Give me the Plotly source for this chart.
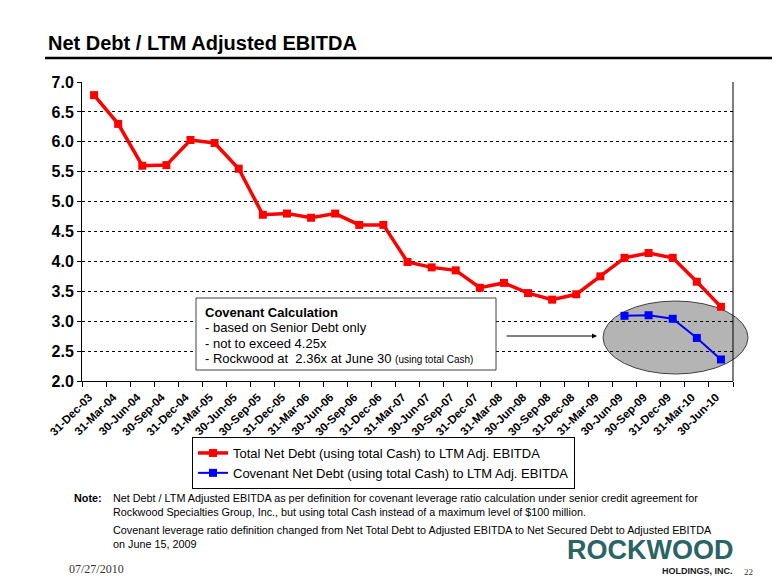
import plotly.graph_objects as go

# Page body has an 8px margin, so the figure is drawn 8px in from the top-left.
OFF = 8
W, H = 780 - OFF, 585 - OFF

quarters = ["31-Dec-03", "31-Mar-04", "30-Jun-04", "30-Sep-04", "31-Dec-04", "31-Mar-05",
            "30-Jun-05", "30-Sep-05", "31-Dec-05", "31-Mar-06", "30-Jun-06", "30-Sep-06",
            "31-Dec-06", "31-Mar-07", "30-Jun-07", "30-Sep-07", "31-Dec-07", "31-Mar-08",
            "30-Jun-08", "30-Sep-08", "31-Dec-08", "31-Mar-09", "30-Jun-09", "30-Sep-09",
            "31-Dec-09", "31-Mar-10", "30-Jun-10"]
total_net_debt = [6.78, 6.30, 5.60, 5.61, 6.03, 5.98, 5.55, 4.78, 4.80, 4.73, 4.80, 4.61,
                  4.61, 3.99, 3.90, 3.85, 3.56, 3.64, 3.47, 3.36, 3.45, 3.75, 4.06, 4.14,
                  4.06, 3.66, 3.24]
covenant_quarters = ["30-Jun-09", "30-Sep-09", "31-Dec-09", "31-Mar-10", "30-Jun-10"]
covenant_net_debt = [3.09, 3.10, 3.04, 2.72, 2.36]
y_ticks = [2.0, 2.5, 3.0, 3.5, 4.0, 4.5, 5.0, 5.5, 6.0, 6.5, 7.0]

FONT = "Liberation Sans, Arial, sans-serif"
SERIF = "Liberation Serif, Times New Roman, serif"


def px(x):
    return (x - OFF) / W


def py(y):
    return 1 - (y - OFF) / H


fig = go.Figure()
fig.add_trace(go.Scatter(
    x=quarters, y=total_net_debt, mode="lines+markers",
    name="Total Net Debt (using total Cash) to LTM Adj. EBITDA",
    line=dict(color="#ff0000", width=3.5),
    marker=dict(symbol="square", size=8, color="#ff0000"),
))
fig.add_trace(go.Scatter(
    x=covenant_quarters, y=covenant_net_debt, mode="lines+markers",
    name="Covenant Net Debt (using total Cash) to LTM Adj. EBITDA",
    line=dict(color="#0000ff", width=2),
    marker=dict(symbol="square", size=8, color="#0000ff"),
))

shapes = [
    # title underline
    dict(type="line", xref="paper", yref="paper", x0=px(45), x1=1, y0=py(58), y1=py(58),
         line=dict(color="black", width=2.5)),
    # right border of plot area
    dict(type="line", xref="x domain", yref="y domain", x0=1, x1=1, y0=0, y1=1,
         line=dict(color="black", width=1)),
    # ellipse highlighting covenant
    dict(type="circle", xref="paper", yref="paper", x0=px(603), x1=px(748), y0=py(301), y1=py(374),
         fillcolor="#b4b4b4", line=dict(color="#404040", width=1), layer="between"),
    # covenant box
    dict(type="rect", xref="paper", yref="paper", x0=px(196), x1=px(496), y0=py(298), y1=py(370),
         fillcolor="white", line=dict(color="#404040", width=1)),
]


def txt(text, x, y, size, xanchor="left", family=FONT, color="black", pad=1):
    return dict(text=text, xref="paper", yref="paper", x=px(x), y=py(y), xanchor=xanchor,
                yanchor="middle", showarrow=False, borderpad=pad,
                font=dict(family=family, size=size, color=color))


annotations = [
    txt("<b>Net Debt / LTM Adjusted EBITDA</b>", 46, 43, 20),
    # covenant box text
    txt("<b>Covenant Calculation</b>", 203, 312, 13),
    txt("- based on Senior Debt only", 203, 327, 13),
    txt("- not to exceed 4.25x", 203, 343, 13),
    txt("- Rockwood at  2.36x at June 30 <span style='font-size:10px'>(using total Cash)</span>", 203, 358, 13),
    # arrow
    dict(text="", xref="paper", yref="paper", x=px(597), y=py(336), ax=-92, ay=0,
         showarrow=True, arrowhead=2, arrowsize=1, arrowwidth=1, arrowcolor="black"),
    # notes
    txt("<b>Note:</b>", 72, 498, 10.8),
    txt("Net Debt / LTM Adjusted EBITDA as per definition for covenant leverage ratio calculation under senior credit agreement for",
        111, 498, 10.8),
    txt("Rockwood Specialties Group, Inc., but using total Cash instead of a maximum level of $100 million.",
        111, 512, 10.8),
    txt("Covenant leverage ratio definition changed from Net Total Debt to Adjusted EBITDA to Net Secured Debt to Adjusted EBITDA",
        112, 530, 10.8, pad=0),
    txt("on June 15, 2009", 111, 544, 10.8),
    # footer
    txt("07/27/2010", 67, 569, 12, family=SERIF, color="#333333"),
    txt("22", 742, 572, 9, family=SERIF, color="#333333"),
    txt("<b>ROCKWOOD</b>", 734, 550, 27, xanchor="right", color="#2a6464", pad=0),
    txt("<b>HOLDINGS, INC.</b>", 734, 571, 9, xanchor="right", color="#1a1a1a", pad=0),
]

fig.update_layout(
    width=W, height=H,
    autosize=False,
    margin=dict(l=0, r=0, t=0, b=0, pad=0, autoexpand=False),
    paper_bgcolor="white", plot_bgcolor="white",
    font=dict(family=FONT, color="black"),
    showlegend=True,
    legend=dict(x=px(192), y=py(437), xanchor="left", yanchor="top",
                bordercolor="black", borderwidth=1, bgcolor="white",
                font=dict(family=FONT, size=13, color="black"),
                tracegroupgap=0, itemwidth=30),
    shapes=shapes,
    annotations=annotations,
    xaxis=dict(
        domain=[px(82), px(733)],
        type="category", categoryorder="array", categoryarray=quarters,
        range=[-0.5, len(quarters) - 0.5], automargin=False,
        tickmode="array", tickvals=quarters, ticktext=quarters,
        tickangle=-45, tickson="boundaries", ticks="outside", ticklen=5, tickcolor="black",
        ticklabelstandoff=4, ticklabelshift=-5,
        tickfont=dict(family=FONT, size=11.5, color="black", weight="bold"),
        showline=True, linecolor="black", linewidth=1, showgrid=False, zeroline=False,
        fixedrange=True,
    ),
    yaxis=dict(
        domain=[py(381), py(82)],
        range=[2.0, 7.0], automargin=False,
        tickmode="array", tickvals=y_ticks, ticktext=[f"{v:.1f}" for v in y_ticks],
        ticks="outside", ticklen=4, tickcolor="black",
        tickfont=dict(family=FONT, size=16, color="black", weight="bold"),
        showline=True, linecolor="black", linewidth=1,
        showgrid=True, gridcolor="black", gridwidth=1, griddash="dot",
        zeroline=False, fixedrange=True,
    ),
)

fig.write_html("out.html")
